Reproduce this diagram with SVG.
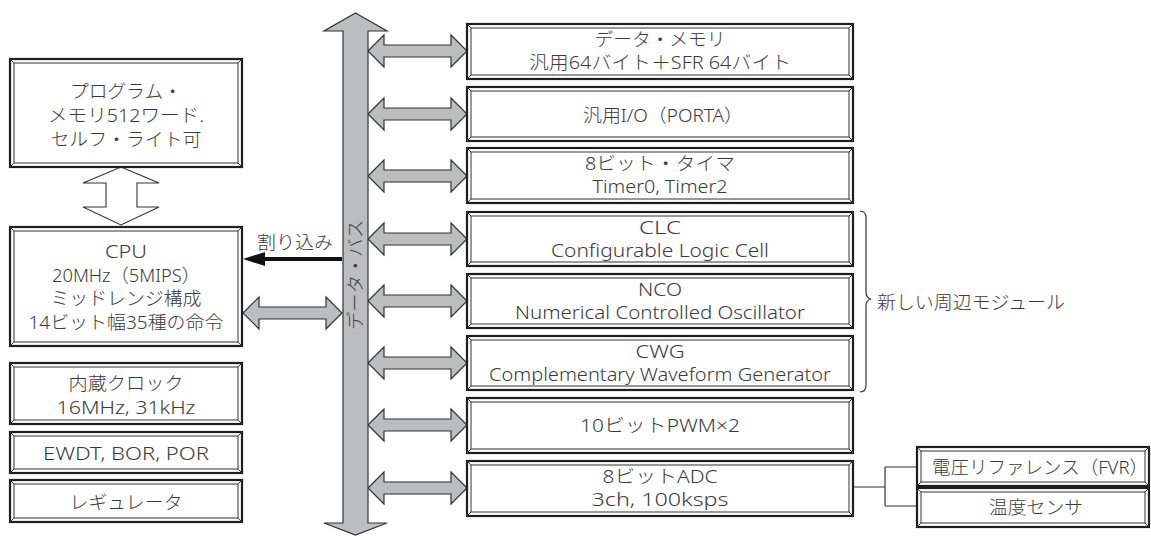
<svg xmlns="http://www.w3.org/2000/svg" xmlns:xlink="http://www.w3.org/1999/xlink" width="1151" height="536" viewBox="0 0 1151 536">
<style>
.fo{fill:#fff;stroke:#1e1e1e;stroke-width:2.2}
.fi{fill:none;stroke:#333;stroke-width:1}
.fc{fill:none;stroke:#333;stroke-width:1}
.t{font-family:"Noto Sans","Noto Sans CJK JP",sans-serif;font-size:18.5px;font-weight:300;fill:#3a3a3a;text-anchor:middle}
.ts{text-anchor:start}
.ga{fill:#bcbdc1;stroke:#333;stroke-width:1.2;stroke-linejoin:miter}
.ln{fill:none;stroke:#333;stroke-width:1.2}
</style>
<defs>
<polygon id="dbl" class="ga" points="368,0 384,-16 384,-6 451,-6 451,-16 467,0 451,16 451,6 384,6 384,16"/>
</defs>

<g id="connectors">
<polygon points="121,167 159,183 137,183 137,207 159,207 121,225 83,207 106,207 106,183 83,183" fill="#fff" stroke="#333" stroke-width="1.1"/>
<polygon class="ga" points="243,313 259,297 259,307 326,307 326,297 342,313 326,329 326,319 259,319 259,329"/>
<line x1="342" y1="259" x2="262" y2="259" stroke="#111" stroke-width="4"/>
<polygon points="243,259 265,252 265,266" fill="#111"/>
<use xlink:href="#dbl" href="#dbl" y="51"/>
<use xlink:href="#dbl" href="#dbl" y="114"/>
<use xlink:href="#dbl" href="#dbl" y="176"/>
<use xlink:href="#dbl" href="#dbl" y="239"/>
<use xlink:href="#dbl" href="#dbl" y="301"/>
<use xlink:href="#dbl" href="#dbl" y="363"/>
<use xlink:href="#dbl" href="#dbl" y="425"/>
<use xlink:href="#dbl" href="#dbl" y="488"/>
<path class="ln" d="M853,487 H885 M885,467 V506 M885,467 H917 M885,506 H917"/>
</g>

<g id="bus">
<polygon class="ga" stroke-width="1.5" points="355.5,13 387,31 368,31 368,523 387,523 355.5,535 324,523 343,523 343,31 324,31"/>
<text class="t" style="font-size:18px" transform="translate(362,275) rotate(-90)" textLength="110" lengthAdjust="spacingAndGlyphs">データ・バス</text>
</g>

<g id="label-interrupt">
<text class="t" x="295" y="249" textLength="76" lengthAdjust="spacingAndGlyphs">割り込み</text>
</g>

<g id="prog-mem">
<rect class="fo" x="10" y="59" width="232" height="108"/>
<rect class="fi" x="14" y="63" width="224" height="100"/>
<path class="fc" d="M10,59 l4,4 M242,59 l-4,4 M10,167 l4,-4 M242,167 l-4,-4"/>
<text class="t" x="126" y="98" textLength="112" lengthAdjust="spacingAndGlyphs">プログラム・</text>
<text class="t" x="126" y="122" textLength="156" lengthAdjust="spacingAndGlyphs">メモリ512ワード.</text>
<text class="t" x="126" y="146" textLength="151" lengthAdjust="spacingAndGlyphs">セルフ・ライト可</text>
</g>

<g id="cpu">
<rect class="fo" x="10" y="227" width="232" height="119"/>
<rect class="fi" x="14" y="231" width="224" height="111"/>
<path class="fc" d="M10,227 l4,4 M242,227 l-4,4 M10,346 l4,-4 M242,346 l-4,-4"/>
<text class="t" x="126" y="258" textLength="42" lengthAdjust="spacingAndGlyphs">CPU</text>
<text class="t" x="126" y="282" textLength="148" lengthAdjust="spacingAndGlyphs">20MHz（5MIPS）</text>
<text class="t" x="126" y="305" textLength="151" lengthAdjust="spacingAndGlyphs">ミッドレンジ構成</text>
<text class="t" x="126" y="329" textLength="195" lengthAdjust="spacingAndGlyphs">14ビット幅35種の命令</text>
</g>

<g id="clock">
<rect class="fo" x="10" y="363" width="232" height="61"/>
<rect class="fi" x="14" y="367" width="224" height="53"/>
<path class="fc" d="M10,363 l4,4 M242,363 l-4,4 M10,424 l4,-4 M242,424 l-4,-4"/>
<text class="t" x="126" y="390" textLength="115" lengthAdjust="spacingAndGlyphs">内蔵クロック</text>
<text class="t" x="126" y="414" textLength="139" lengthAdjust="spacingAndGlyphs">16MHz, 31kHz</text>
</g>

<g id="reset">
<rect class="fo" x="10" y="432" width="232" height="41"/>
<rect class="fi" x="14" y="436" width="224" height="33"/>
<path class="fc" d="M10,432 l4,4 M242,432 l-4,4 M10,473 l4,-4 M242,473 l-4,-4"/>
<text class="t" x="126" y="460" textLength="166" lengthAdjust="spacingAndGlyphs">EWDT, BOR, POR</text>
</g>

<g id="regulator">
<rect class="fo" x="10" y="480" width="232" height="42"/>
<rect class="fi" x="14" y="484" width="224" height="34"/>
<path class="fc" d="M10,480 l4,4 M242,480 l-4,4 M10,522 l4,-4 M242,522 l-4,-4"/>
<text class="t" x="126" y="509" textLength="113" lengthAdjust="spacingAndGlyphs">レギュレータ</text>
</g>

<g id="data-mem">
<rect class="fo" x="467" y="24" width="386" height="55"/>
<rect class="fi" x="471" y="28" width="378" height="47"/>
<path class="fc" d="M467,24 l4,4 M853,24 l-4,4 M467,79 l4,-4 M853,79 l-4,-4"/>
<text class="t" x="660" y="46" textLength="131" lengthAdjust="spacingAndGlyphs">データ・メモリ</text>
<text class="t" x="660" y="69" textLength="262" lengthAdjust="spacingAndGlyphs">汎用64バイト＋SFR 64バイト</text>
</g>

<g id="gpio">
<rect class="fo" x="467" y="87" width="386" height="54"/>
<rect class="fi" x="471" y="91" width="378" height="46"/>
<path class="fc" d="M467,87 l4,4 M853,87 l-4,4 M467,141 l4,-4 M853,141 l-4,-4"/>
<text class="t" x="663" y="122" textLength="160" lengthAdjust="spacingAndGlyphs">汎用I/O（PORTA）</text>
</g>

<g id="timer">
<rect class="fo" x="467" y="148" width="386" height="55"/>
<rect class="fi" x="471" y="152" width="378" height="47"/>
<path class="fc" d="M467,148 l4,4 M853,148 l-4,4 M467,203 l4,-4 M853,203 l-4,-4"/>
<text class="t" x="660" y="170" textLength="150" lengthAdjust="spacingAndGlyphs">8ビット・タイマ</text>
<text class="t" x="660" y="193" textLength="135" lengthAdjust="spacingAndGlyphs">Timer0, Timer2</text>
</g>

<g id="clc">
<rect class="fo" x="467" y="212" width="386" height="54"/>
<rect class="fi" x="471" y="216" width="378" height="46"/>
<path class="fc" d="M467,212 l4,4 M853,212 l-4,4 M467,266 l4,-4 M853,266 l-4,-4"/>
<text class="t" x="660" y="234" textLength="42" lengthAdjust="spacingAndGlyphs">CLC</text>
<text class="t" x="660" y="257" textLength="218" lengthAdjust="spacingAndGlyphs">Configurable Logic Cell</text>
</g>

<g id="nco">
<rect class="fo" x="467" y="274" width="386" height="54"/>
<rect class="fi" x="471" y="278" width="378" height="46"/>
<path class="fc" d="M467,274 l4,4 M853,274 l-4,4 M467,328 l4,-4 M853,328 l-4,-4"/>
<text class="t" x="660" y="296" textLength="44" lengthAdjust="spacingAndGlyphs">NCO</text>
<text class="t" x="660" y="319" textLength="290" lengthAdjust="spacingAndGlyphs">Numerical Controlled Oscillator</text>
</g>

<g id="cwg">
<rect class="fo" x="467" y="336" width="386" height="54"/>
<rect class="fi" x="471" y="340" width="378" height="46"/>
<path class="fc" d="M467,336 l4,4 M853,336 l-4,4 M467,390 l4,-4 M853,390 l-4,-4"/>
<text class="t" x="660" y="358" textLength="49" lengthAdjust="spacingAndGlyphs">CWG</text>
<text class="t" x="660" y="381" textLength="342" lengthAdjust="spacingAndGlyphs">Complementary Waveform Generator</text>
</g>

<g id="pwm">
<rect class="fo" x="467" y="398" width="386" height="55"/>
<rect class="fi" x="471" y="402" width="378" height="47"/>
<path class="fc" d="M467,398 l4,4 M853,398 l-4,4 M467,453 l4,-4 M853,453 l-4,-4"/>
<text class="t" x="660" y="432" textLength="160" lengthAdjust="spacingAndGlyphs">10ビットPWM×2</text>
</g>

<g id="adc">
<rect class="fo" x="467" y="461" width="386" height="55"/>
<rect class="fi" x="471" y="465" width="378" height="47"/>
<path class="fc" d="M467,461 l4,4 M853,461 l-4,4 M467,516 l4,-4 M853,516 l-4,-4"/>
<text class="t" x="660" y="483" textLength="115" lengthAdjust="spacingAndGlyphs">8ビットADC</text>
<text class="t" x="660" y="506" textLength="137" lengthAdjust="spacingAndGlyphs">3ch, 100ksps</text>
</g>

<g id="fvr">
<rect class="fo" x="917" y="447" width="232" height="39"/>
<rect class="fi" x="921" y="451" width="224" height="31"/>
<path class="fc" d="M917,447 l4,4 M1149,447 l-4,4 M917,486 l4,-4 M1149,486 l-4,-4"/>
<text class="t" x="1040" y="474" textLength="216" lengthAdjust="spacingAndGlyphs">電圧リファレンス（FVR）</text>
</g>

<g id="temp">
<rect class="fo" x="917" y="488" width="232" height="39"/>
<rect class="fi" x="921" y="492" width="224" height="31"/>
<path class="fc" d="M917,488 l4,4 M1149,488 l-4,4 M917,527 l4,-4 M1149,527 l-4,-4"/>
<text class="t" x="1036" y="514" textLength="94" lengthAdjust="spacingAndGlyphs">温度センサ</text>
</g>

<g id="new-modules">
<path class="ln" d="M860,211 Q866,211 866,218 L866,292 Q866,298 871,299 Q866,300 866,306 L866,385 Q866,392 860,392"/>
<text class="t ts" x="877" y="309" textLength="188" lengthAdjust="spacingAndGlyphs">新しい周辺モジュール</text>
</g>
</svg>
